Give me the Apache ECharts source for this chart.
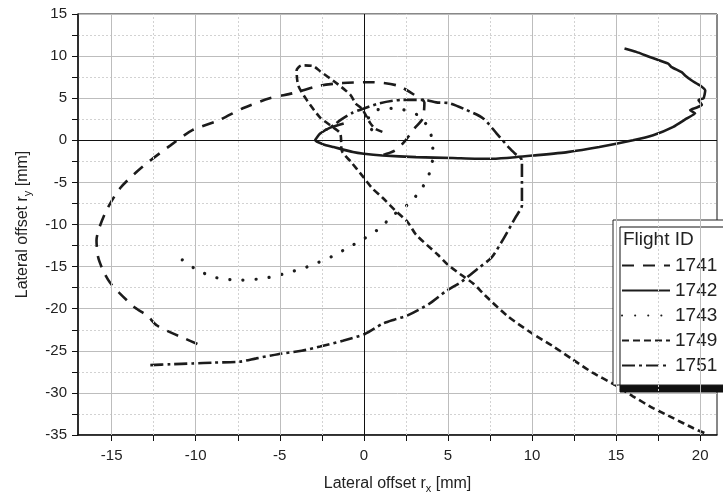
<!DOCTYPE html>
<html>
<head>
<meta charset="utf-8">
<script src="https://cdn.jsdelivr.net/npm/echarts@6/dist/echarts.min.js"></script>
<style>
  html, body { margin: 0; padding: 0; background: #fff; }
  #chart { width: 723px; height: 504px; }
</style>
</head>
<body>
<div id="chart"></div>
<script>
// flight ids shown in the legend
const flightIds = ['1741', '1742', '1743', '1749', '1751'];

// lateral offset traces [rx, ry] in mm
const flight1741 = [
  [-9.9, -24.2], [-10.7, -23.5], [-11.4, -22.9], [-12.3, -22.0], [-12.9, -20.8], [-13.6, -19.9],
  [-14.5, -18.2], [-15.1, -16.9], [-15.5, -15.5], [-15.8, -13.9], [-15.9, -11.9], [-15.4, -8.7],
  [-14.5, -5.7], [-13.2, -3.2], [-11.5, -0.6], [-10.2, 1.2], [-8.6, 2.4], [-7.2, 3.8], [-5.6, 5.0],
  [-4.2, 5.6], [-2.6, 6.5], [-1.25, 6.8], [0.5, 6.9], [2.0, 6.5], [3.0, 5.4], [3.6, 4.5],
  [3.5, 2.6], [3.0, 1.4], [2.4, -0.2], [1.85, -1.2], [1.1, -1.8], [0.8, -2.1]
];
const flight1742 = [
  [-1.2, 2.0], [-2.0, 1.5], [-2.6, 0.8], [-2.9, 0.0], [-2.4, -0.5], [-1.8, -0.8], [-0.65, -1.4],
  [0, -1.6], [1.1, -1.8], [3.1, -2.0], [5.3, -2.1], [7.3, -2.2], [8.5, -2.1], [10.1, -1.8],
  [12.1, -1.4], [14.0, -0.8], [16.0, 0.0], [17.2, 0.6], [18.4, 1.6], [19.2, 2.6], [19.7, 3.2],
  [19.4, 3.6], [19.8, 3.9], [20.1, 4.2], [19.9, 4.8], [20.2, 5.0], [20.3, 5.9], [20.0, 6.5],
  [19.5, 7.1], [19.1, 7.7], [18.9, 8.1], [18.3, 8.7], [18.1, 9.1], [17.0, 9.9], [16.2, 10.5],
  [15.5, 10.9]
];
const flight1743 = [
  [-10.8, -14.2], [-10.0, -15.3], [-9.0, -16.2], [-8.2, -16.5], [-7.3, -16.6], [-6.4, -16.5],
  [-5.4, -16.2], [-4.5, -15.7], [-3.6, -15.2], [-2.7, -14.5], [-1.8, -13.7], [-0.9, -12.7],
  [0, -11.7], [0.9, -10.5], [1.8, -8.8], [2.7, -7.5], [3.45, -5.7], [3.9, -3.9], [4.1, -2.0],
  [4.1, -0.4], [3.8, 1.6], [3.2, 3.0], [2.2, 3.7], [1.2, 3.8], [0.5, 3.3], [0.2, 2.2],
  [0.5, 1.2], [1.0, 0.7]
];
const flight1749 = [
  [1.1, 1.0], [0.65, 1.4], [0.36, 2.1], [-0.1, 3.7], [-0.5, 4.4], [-0.8, 5.4], [-1.7, 6.9],
  [-2.6, 8.2], [-3.0, 8.8], [-3.7, 8.9], [-4.0, 8.3], [-3.9, 6.5], [-3.4, 4.8], [-2.6, 2.7],
  [-1.8, 1.5], [-1.4, 0.8], [-1.3, -1.3], [-0.75, -2.6], [-0.1, -4.2], [0.5, -5.7], [1.1, -6.8],
  [1.85, -8.3], [2.6, -9.7], [3.1, -11.2], [4.4, -13.6], [5.0, -14.8], [5.8, -16.0], [6.5, -17.0],
  [7.2, -18.4], [8.5, -20.8], [9.9, -22.8], [11.2, -24.4], [12.4, -26.0], [13.6, -27.6],
  [14.8, -28.9], [16.0, -30.4], [17.2, -31.8], [18.4, -33.0], [19.6, -34.2], [20.4, -34.9]
];
const flight1751 = [
  [-12.7, -26.7], [-11.5, -26.6], [-10.2, -26.5], [-8.9, -26.4], [-7.4, -26.3], [-6.4, -25.9],
  [-5.1, -25.4], [-3.7, -25.0], [-2.6, -24.5], [-1.25, -23.8], [0.06, -23.0], [1.1, -21.8],
  [1.8, -21.3], [2.6, -20.8], [3.9, -19.4], [4.9, -17.9], [5.8, -16.8], [6.8, -15.2], [7.6, -13.9],
  [8.3, -11.7], [9.0, -9.2], [9.4, -7.7], [9.4, -5.1], [9.4, -2.4], [9.0, -1.6], [8.6, -0.8],
  [7.9, 0.8], [7.1, 2.6], [6.1, 3.6], [5.1, 4.4], [4.3, 4.5], [3.6, 4.8], [2.3, 4.8], [0.95, 4.4],
  [-0.24, 3.6], [-0.65, 3.3], [-1.4, 2.4], [-1.8, 1.8], [-2.3, 1.2]
];

// axis tick values
const xLabelValues = [-15, -10, -5, 0, 5, 10, 15, 20];
const xTickValues = [-15, -12.5, -10, -7.5, -5, -2.5, 0, 2.5, 5, 7.5, 10, 12.5, 15, 17.5, 20];
const xMajorGrid = [-15, -10, -5, 5, 10, 15, 20];
const xMinorGrid = [-12.5, -7.5, -2.5, 2.5, 7.5, 12.5, 17.5];

const FONT = "'Liberation Sans', Arial, sans-serif";
const INK = '#1c1c1c';

const dashes = {
  '1741': [12, 9],
  '1742': 'solid',
  '1743': [0.1, 13],
  '1749': [7, 4],
  '1751': [13, 4, 3, 4]
};
const widths = { '1741': 2.6, '1742': 2.6, '1743': 3.2, '1749': 2.6, '1751': 2.6 };
const traces = {
  '1741': flight1741,
  '1742': flight1742,
  '1743': flight1743,
  '1749': flight1749,
  '1751': flight1751
};

const gridLines = []
  .concat(xMajorGrid.map(v => ({ xAxis: v, lineStyle: { color: '#bdbdbd', width: 1, type: 'solid' } })))
  .concat(xMinorGrid.map(v => ({ xAxis: v, lineStyle: { color: '#d2d2d2', width: 1, type: [2, 2] } })))
  .concat([
    { xAxis: 0, lineStyle: { color: '#111', width: 1, type: 'solid' } },
    { yAxis: 0, lineStyle: { color: '#111', width: 1, type: 'solid' } }
  ]);

const series = [{
  name: 'grid',
  type: 'line',
  data: [[0, 0]],
  showSymbol: false,
  symbol: 'none',
  lineStyle: { width: 0 },
  z: 1,
  silent: true,
  markLine: {
    silent: true,
    symbol: ['none', 'none'],
    label: { show: false },
    animation: false,
    data: gridLines
  }
}].concat(flightIds.map(id => ({
  name: id,
  type: 'line',
  data: traces[id],
  symbol: 'none',
  showSymbol: false,
  color: INK,
  smooth: id === '1742' ? 0.15 : 0.25,
  z: 3,
  lineStyle: {
    color: INK,
    width: widths[id],
    type: dashes[id],
    cap: id === '1743' ? 'round' : 'butt'
  }
})));

const option = {
  animation: false,
  backgroundColor: '#fff',
  textStyle: { fontFamily: FONT },
  grid: {
    left: 78, right: 6, top: 14, bottom: 69,
    show: true, borderColor: '#111', borderWidth: 1, backgroundColor: 'transparent'
  },
  title: {
    text: 'Flight ID',
    left: 623,
    top: 230,
    padding: 0,
    z: 10,
    textStyle: { fontFamily: FONT, fontSize: 19, fontWeight: 'normal', color: '#222' }
  },
  legend: {
    data: flightIds,
    orient: 'vertical',
    left: 613,
    top: 220,
    padding: [36, 20, 10, 8],
    itemWidth: 48,
    itemHeight: 10,
    itemGap: 6,
    itemStyle: { opacity: 0 },
    backgroundColor: '#fff',
    borderColor: '#222',
    borderWidth: 1,
    shadowColor: '#111',
    shadowBlur: 0,
    shadowOffsetX: 7,
    shadowOffsetY: 7,
    textStyle: { fontFamily: FONT, fontSize: 19, color: '#222' }
  },
  xAxis: {
    type: 'value',
    min: -17,
    max: 21,
    name: 'Lateral offset r{sub|x} [mm]',
    nameLocation: 'middle',
    nameGap: 38,
    nameTextStyle: {
      fontFamily: FONT, fontSize: 16, color: '#222',
      rich: { sub: { fontFamily: FONT, fontSize: 11, color: '#222', padding: [10, 0, 0, 0] } }
    },
    axisLine: { show: true, onZero: false, lineStyle: { color: '#111', width: 1.5 } },
    axisTick: { show: true, inside: false, length: 6, customValues: xTickValues, lineStyle: { color: '#111' } },
    axisLabel: {
      customValues: xLabelValues,
      margin: 13,
      fontFamily: FONT, fontSize: 15, color: '#222'
    },
    splitLine: { show: false }
  },
  yAxis: {
    type: 'value',
    min: -35,
    max: 15,
    interval: 5,
    name: 'Lateral offset r{sub|y} [mm]',
    nameLocation: 'middle',
    nameGap: 45,
    nameTextStyle: {
      fontFamily: FONT, fontSize: 16, color: '#222',
      rich: { sub: { fontFamily: FONT, fontSize: 11, color: '#222', padding: [10, 0, 0, 0] } }
    },
    axisLine: { show: true, onZero: false, lineStyle: { color: '#111', width: 1.5 } },
    axisTick: { show: true, inside: false, length: 6, lineStyle: { color: '#111' } },
    minorTick: { show: true, splitNumber: 2, length: 6, lineStyle: { color: '#111' } },
    axisLabel: { margin: 11, fontFamily: FONT, fontSize: 15, color: '#222' },
    splitLine: { show: true, lineStyle: { color: '#bdbdbd', width: 1 } },
    minorSplitLine: { show: true, lineStyle: { color: '#d2d2d2', width: 1, type: [2, 2] } }
  },
  series: series
};

const chart = echarts.init(document.getElementById('chart'), null, { renderer: 'canvas' });
chart.setOption(option);
</script>
</body>
</html>
